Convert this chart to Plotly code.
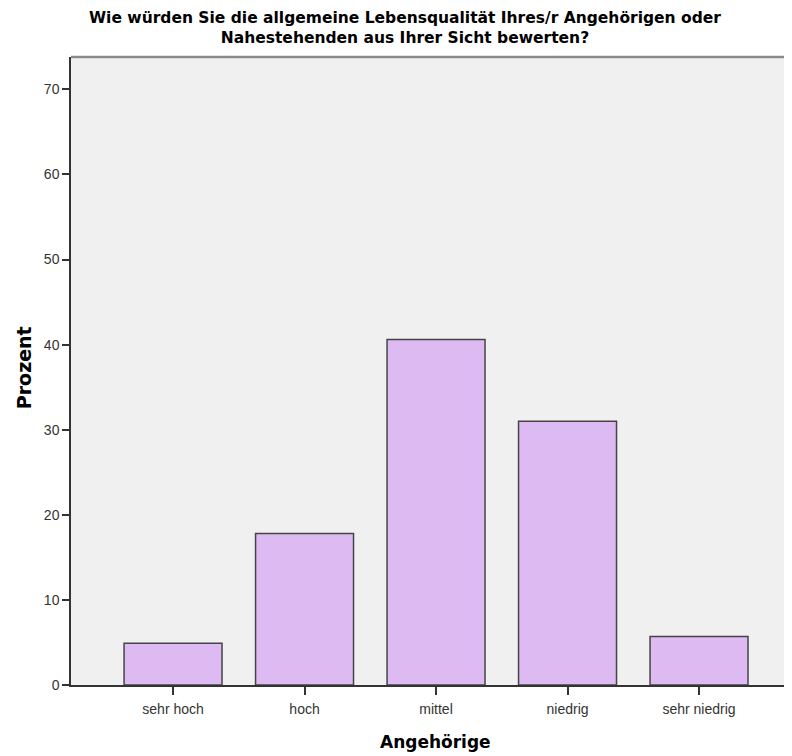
import plotly.graph_objects as go

categories = ["sehr hoch", "hoch", "mittel", "niedrig", "sehr niedrig"]
prozent = [4.9, 17.8, 40.6, 31.0, 5.7]
y_ticks = [0, 10, 20, 30, 40, 50, 60, 70]

title_lines = ["Wie würden Sie die allgemeine Lebensqualität Ihres/r Angehörigen oder",
               "Nahestehenden aus Ihrer Sicht bewerten?"]
x_title = "Angehörige"
y_title = "Prozent"

sans = "Liberation Sans, Arial, sans-serif"
wide = "DejaVu Sans, Verdana, sans-serif"

fig = go.Figure(go.Bar(
    x=categories, y=prozent, width=0.745,
    marker=dict(color="#DEBAF2", line=dict(color="#454545", width=1.5)),
))

fig.update_layout(
    width=784, height=748,
    margin=dict(l=63, r=0, t=49, b=71, autoexpand=False),
    paper_bgcolor="white", plot_bgcolor="#F0F0F0",
    showlegend=False,
    xaxis=dict(
        range=[-0.776, 4.707], showgrid=False, zeroline=False,
        showline=True, linecolor="#333333", linewidth=1.5,
        ticks="outside", ticklen=8, tickcolor="#333333", tickwidth=1.5,
        ticklabelstandoff=2,
        tickfont=dict(family=sans, size=14, color="#333333"),
    ),
    yaxis=dict(
        range=[0, 73.8], tickvals=y_ticks, showgrid=False, zeroline=False,
        showline=True, linecolor="#333333", linewidth=1.5,
        ticks="outside", ticklen=7, tickcolor="#333333", tickwidth=1.5,
        tickfont=dict(family=sans, size=14, color="#333333"),
    ),
)

# title (two lines in one annotation)
fig.add_annotation(text="<br>".join(title_lines), xref="paper", yref="paper",
                   x=0.463, y=1.0462, xanchor="center", yanchor="middle",
                   showarrow=False, align="center",
                   font=dict(family=wide, size=15.5, color="black", weight="bold"))

# axis titles
fig.add_annotation(text=x_title, xref="paper", yref="paper", x=0.505, y=-0.0908,
                   xanchor="center", yanchor="middle", showarrow=False,
                   font=dict(family=wide, size=17, color="black", weight="bold"))
fig.add_annotation(text=y_title, xref="paper", yref="paper", x=-0.0652, y=0.506,
                   xanchor="center", yanchor="middle", showarrow=False, textangle=-90,
                   font=dict(family=wide, size=19, color="black", weight="bold"))

fig.add_shape(type="line", xref="paper", yref="paper", x0=0, x1=1, y0=1, y1=1,
              line=dict(color="#8A8A8A", width=2.5))

fig.write_html("out.html")
